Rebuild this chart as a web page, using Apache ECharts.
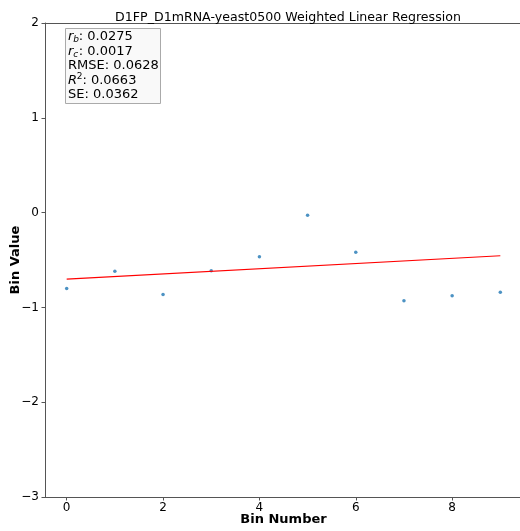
<!DOCTYPE html>
<html>
<head>
<meta charset="utf-8">
<script src="https://cdn.jsdelivr.net/npm/echarts@6/dist/echarts.min.js"></script>
<style>
  html, body { margin: 0; padding: 0; background: #fff; }
  #chart { width: 520px; height: 531px; }
</style>
</head>
<body>
<div id="chart"></div>
<script>
// bin numbers and values
var binNumbers = [0, 1, 2, 3, 4, 5, 6, 7, 8, 9];
var binValues = [-0.80, -0.618, -0.863, -0.614, -0.467, -0.028, -0.418, -0.93, -0.877, -0.839];
// fitted line end points
var fitX = [0, 9];
var fitY = [-0.702, -0.455];
var xTicks = [0, 2, 4, 6, 8];
// stats box: symbol, sub/sup part, value text
var statNames = ['r', 'r', 'RMSE', 'R', 'SE'];
var statMarks = ['b', 'c', '', '2', ''];
var statValues = ['0.0275', '0.0017', '0.0628', '0.0663', '0.0362'];

var font = 'DejaVu Sans';
var spine = '#555';
var myChart = echarts.init(document.getElementById('chart'), null, { renderer: 'canvas' });

// build the stats box out of graphic texts (sub/superscripts need hand placement)
function statsBox() {
  var els = [{
    type: 'rect', left: 65, top: 28,
    shape: { width: 95, height: 75 },
    style: { fill: 'rgba(248,248,248,0.9)', stroke: '#aaa', lineWidth: 1 }
  }];
  var x0 = 68, y0 = 37, dy = 14.4;
  for (var i = 0; i < statNames.length; i++) {
    var y = y0 + i * dy;
    var nm = statNames[i], mk = statMarks[i];
    if (mk === '') {
      els.push({ type: 'text', x: x0, y: y, style: { text: nm + ': ' + statValues[i], font: '13px ' + font, fill: '#000', textVerticalAlign: 'middle' } });
      continue;
    }
    var wMain = nm === 'R' ? 8.8 : 5.2;
    els.push({ type: 'text', x: x0, y: y, style: { text: nm, font: 'italic 13px ' + font, fill: '#000', textVerticalAlign: 'middle' } });
    var isSup = mk === '2';
    els.push({ type: 'text', x: x0 + wMain, y: y + (isSup ? -4 : 3), style: { text: mk, font: (isSup ? '' : 'italic ') + '9px ' + font, fill: '#000', textVerticalAlign: 'middle' } });
    els.push({ type: 'text', x: x0 + wMain + 5.6, y: y, style: { text: ': ' + statValues[i], font: '13px ' + font, fill: '#000', textVerticalAlign: 'middle' } });
  }
  return els;
}

var option = {
  animation: false,
  textStyle: { fontFamily: font },
  title: {
    text: 'D1FP_D1mRNA-yeast0500 Weighted Linear Regression',
    left: 283, top: 6, textAlign: 'center',
    textStyle: { fontSize: 12.6, fontWeight: 'normal', color: '#000', fontFamily: font }
  },
  grid: {
    left: 45, right: -2, top: 23, bottom: 34,
    containLabel: false, outerBoundsMode: 'none', show: false
  },
  xAxis: [
    {
      type: 'value', min: -0.45, max: 9.45,
      name: 'Bin Number', nameLocation: 'middle', nameGap: 16, nameMoveOverlap: false,
      nameTextStyle: { fontSize: 13, fontWeight: 'bold', color: '#000', fontFamily: font },
      axisLine: { show: true, onZero: false, lineStyle: { color: spine, width: 1 } },
      axisTick: { show: true, length: 3.5, customValues: xTicks, lineStyle: { color: spine, width: 1 } },
      axisLabel: { customValues: xTicks, fontSize: 12, color: '#000', margin: 5, fontFamily: font },
      splitLine: { show: false }
    },
    {
      // top spine only
      type: 'value', position: 'top', min: -0.45, max: 9.45,
      axisLine: { show: true, onZero: false, lineStyle: { color: spine, width: 1 } },
      axisTick: { show: false }, axisLabel: { show: false }, splitLine: { show: false }
    }
  ],
  yAxis: {
    type: 'value', min: -3, max: 2, interval: 1,
    name: 'Bin Value', nameLocation: 'middle', nameGap: 23, nameMoveOverlap: false,
    nameTextStyle: { fontSize: 13, fontWeight: 'bold', color: '#000', fontFamily: font },
    axisLine: { show: true, onZero: false, lineStyle: { color: spine, width: 1 } },
    axisTick: { show: true, length: 3.5, lineStyle: { color: spine, width: 1 } },
    axisLabel: {
      fontSize: 12, color: '#000', margin: 6, fontFamily: font,
      formatter: function (v) { return v < 0 ? '\u2212' + Math.abs(v) : String(v); }
    },
    splitLine: { show: false }
  },
  graphic: statsBox(),
  series: [
    {
      type: 'scatter',
      data: binNumbers.map(function (x, i) { return [x, binValues[i]]; }),
      symbolSize: 3.5,
      itemStyle: { color: '#1f77b4' }
    },
    {
      type: 'line',
      data: fitX.map(function (x, i) { return [x, fitY[i]]; }),
      showSymbol: false,
      lineStyle: { color: '#ff0000', width: 1.2 }
    }
  ]
};
myChart.setOption(option);
</script>
</body>
</html>
